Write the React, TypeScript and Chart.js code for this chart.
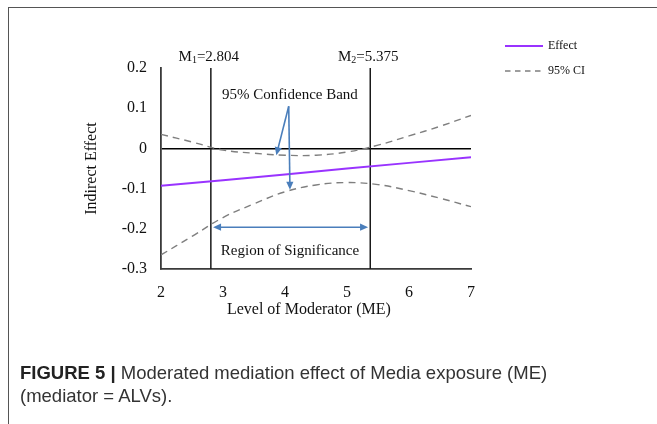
import React, { useEffect, useRef } from 'react';
import { Chart, registerables } from 'chart.js';

Chart.register(...registerables);

// ---------- data ----------
const effectLevels = [2, 3, 4, 5, 6, 7];
const effectValues = [-0.093, -0.079, -0.065, -0.05, -0.036, -0.022];

const ciLevels = [2, 2.5, 3, 3.5, 4, 4.5, 5, 5.5, 6, 6.5, 7];
const ciUpper = [0.035, 0.016, -0.004, -0.012, -0.017, -0.017, -0.009, 0.008, 0.031, 0.055, 0.082];
const ciLower = [-0.265, -0.219, -0.172, -0.138, -0.108, -0.091, -0.085, -0.09, -0.105, -0.124, -0.145];

const xTickValues = [2, 3, 4, 5, 6, 7];
const xTickLabels = ['2', '3', '4', '5', '6', '7'];
const yTickValues = [-0.3, -0.2, -0.1, 0, 0.1, 0.2];
const yTickLabels = ['-0.3', '-0.2', '-0.1', '0', '0.1', '0.2'];

const thresholdValues = [2.804, 5.375];
const thresholdSubscripts = ['1', '2'];
const thresholdTexts = ['=2.804', '=5.375'];

const seriesLabels = ['Effect', '95% CI'];
const xTitle = 'Level of Moderator (ME)';
const yTitle = 'Indirect Effect';

// annotation anchors in data units
const bandLabel = { text: '95% Confidence Band', x: 4.08, y: 0.122 };
const bandArrowStart = { x: 4.06, y: 0.105 };
const bandArrowEnds = [
  { x: 3.86, y: -0.017 },
  { x: 4.08, y: -0.103 },
];
const regionArrow = { y: -0.196, from: 2.84, to: 5.34 };
const regionLabel = { text: 'Region of Significance', x: 4.08, y: -0.265 };
const xTitleCenter = 4.385;

// ---------- styles ----------
const SERIF = "'Liberation Serif', 'Times New Roman', serif";
const EFFECT_COLOR = '#9933ff';
const CI_COLOR = '#7f7f7f';
const ARROW_COLOR = '#4a7ebb';
const TEXT_COLOR = '#111111';
const AXIS_COLOR = '#3a3a3a';

function arrowHead(ctx: CanvasRenderingContext2D, x0: number, y0: number, x1: number, y1: number) {
  const ang = Math.atan2(y1 - y0, x1 - x0);
  const len = 8;
  const hw = 3.6;
  ctx.beginPath();
  ctx.moveTo(x1, y1);
  ctx.lineTo(x1 - len * Math.cos(ang) + hw * Math.sin(ang), y1 - len * Math.sin(ang) - hw * Math.cos(ang));
  ctx.lineTo(x1 - len * Math.cos(ang) - hw * Math.sin(ang), y1 - len * Math.sin(ang) + hw * Math.cos(ang));
  ctx.closePath();
  ctx.fill();
}

function arrowLine(ctx: CanvasRenderingContext2D, x0: number, y0: number, x1: number, y1: number) {
  const ang = Math.atan2(y1 - y0, x1 - x0);
  ctx.beginPath();
  ctx.moveTo(x0, y0);
  ctx.lineTo(x1 - 6 * Math.cos(ang), y1 - 6 * Math.sin(ang));
  ctx.stroke();
  arrowHead(ctx, x0, y0, x1, y1);
}

const annotationPlugin = {
  id: 'figureAnnotations',
  afterDatasetsDraw(chart: any) {
    const { ctx, scales, chartArea } = chart;
    const xs = scales.x;
    const ys = scales.y;
    const px = (v: number) => xs.getPixelForValue(v);
    const py = (v: number) => ys.getPixelForValue(v);
    ctx.save();

    // threshold labels M1 / M2
    thresholdValues.forEach((t, i) => {
      const big = `15px ${SERIF}`;
      const small = `10px ${SERIF}`;
      ctx.font = big;
      const wM = ctx.measureText('M').width;
      const wT = ctx.measureText(thresholdTexts[i]).width;
      ctx.font = small;
      const wS = ctx.measureText(thresholdSubscripts[i]).width;
      const total = wM + wS + wT;
      let x = px(t) - 2 - total / 2;
      const base = py(yTickValues[yTickValues.length - 1]) - 7.5;
      ctx.fillStyle = TEXT_COLOR;
      ctx.textAlign = 'left';
      ctx.textBaseline = 'alphabetic';
      ctx.font = big;
      ctx.fillText('M', x, base);
      x += wM;
      ctx.font = small;
      ctx.fillText(thresholdSubscripts[i], x, base + 2.8);
      x += wS;
      ctx.font = big;
      ctx.fillText(thresholdTexts[i], x, base);
    });

    // x-axis title
    ctx.font = `16px ${SERIF}`;
    ctx.textAlign = 'center';
    ctx.textBaseline = 'middle';
    ctx.fillStyle = TEXT_COLOR;
    ctx.fillText(xTitle, px(xTitleCenter), chartArea.bottom + 41);

    // band label + region label
    ctx.font = `15px ${SERIF}`;
    ctx.textAlign = 'center';
    ctx.textBaseline = 'alphabetic';
    ctx.fillText(bandLabel.text, px(bandLabel.x), py(bandLabel.y));
    ctx.fillText(regionLabel.text, px(regionLabel.x), py(regionLabel.y));

    // arrows
    ctx.strokeStyle = ARROW_COLOR;
    ctx.fillStyle = ARROW_COLOR;
    ctx.lineWidth = 1.6;
    bandArrowEnds.forEach((e) => {
      arrowLine(ctx, px(bandArrowStart.x), py(bandArrowStart.y), px(e.x), py(e.y));
    });
    const ry = py(regionArrow.y);
    const ra = px(regionArrow.from);
    const rb = px(regionArrow.to);
    ctx.beginPath();
    ctx.moveTo(ra + 6, ry);
    ctx.lineTo(rb - 6, ry);
    ctx.stroke();
    arrowHead(ctx, rb, ry, ra, ry);
    arrowHead(ctx, ra, ry, rb, ry);

    // legend
    const lx0 = chartArea.right + 34;
    const lx1 = lx0 + 38;
    const rows = [46, 71];
    const dsets = chart.data.datasets;
    seriesLabels.forEach((lab, i) => {
      const ds = dsets[i];
      ctx.strokeStyle = ds.borderColor;
      ctx.lineWidth = i === 0 ? 2.2 : 1.4;
      ctx.setLineDash(ds.borderDash ? [5.5, 4.5] : []);
      ctx.beginPath();
      ctx.moveTo(lx0, rows[i]);
      ctx.lineTo(lx1, rows[i]);
      ctx.stroke();
      ctx.setLineDash([]);
      ctx.font = `12px ${SERIF}`;
      ctx.fillStyle = TEXT_COLOR;
      ctx.textAlign = 'left';
      ctx.textBaseline = 'middle';
      ctx.fillText(lab, lx1 + 5, rows[i]);
    });

    ctx.restore();
  },
};

export default function App() {
  const canvasRef = useRef<HTMLCanvasElement | null>(null);

  useEffect(() => {
    document.body.style.overflow = 'hidden';
    const canvas = canvasRef.current;
    if (!canvas) return;
    const yMax = yTickValues[yTickValues.length - 1];
    const yMin = yTickValues[0];
    const chart = new Chart(canvas, {
      type: 'line',
      data: {
        datasets: [
          {
            label: seriesLabels[0],
            data: effectLevels.map((x, i) => ({ x, y: effectValues[i] })),
            borderColor: EFFECT_COLOR,
            borderWidth: 2,
            pointRadius: 0,
            tension: 0,
          },
          {
            label: seriesLabels[1],
            data: ciLevels.map((x, i) => ({ x, y: ciUpper[i] })),
            borderColor: CI_COLOR,
            borderWidth: 1.4,
            borderDash: [7, 5],
            pointRadius: 0,
            tension: 0.4,
          },
          {
            label: seriesLabels[1] + ' (lower)',
            data: ciLevels.map((x, i) => ({ x, y: ciLower[i] })),
            borderColor: CI_COLOR,
            borderWidth: 1.4,
            borderDash: [7, 5],
            pointRadius: 0,
            tension: 0.4,
          },
          ...thresholdValues.map((t) => ({
            label: 'threshold',
            data: [
              { x: t, y: yMax },
              { x: t, y: yMin },
            ],
            borderColor: '#1a1a1a',
            borderWidth: 1.5,
            pointRadius: 0,
            tension: 0,
          })),
        ],
      },
      options: {
        responsive: false,
        animation: false,
        devicePixelRatio: 1,
        layout: { padding: { left: 82, right: 186, top: 68, bottom: 104 } },
        plugins: {
          legend: { display: false },
          tooltip: { enabled: false },
        },
        scales: {
          x: {
            type: 'linear',
            min: xTickValues[0],
            max: xTickValues[xTickValues.length - 1],
            afterBuildTicks: (s: any) => {
              s.ticks = xTickValues.map((v) => ({ value: v }));
            },
            afterFit: (s: any) => {
              s.height = 51;
            },
            ticks: {
              callback: (v: any) => {
                const i = xTickValues.indexOf(Number(v));
                return i >= 0 ? xTickLabels[i] : '';
              },
              padding: 14,
              maxRotation: 0,
              autoSkip: false,
              color: TEXT_COLOR,
              font: { family: SERIF, size: 16 },
            },
            grid: { display: false, drawTicks: false },
            border: { display: true, color: AXIS_COLOR, width: 1.8 },
            title: { display: false },
          },
          y: {
            type: 'linear',
            min: yMin,
            max: yMax,
            afterBuildTicks: (s: any) => {
              s.ticks = yTickValues.map((v) => ({ value: v }));
            },
            afterFit: (s: any) => {
              s.width = 79;
            },
            ticks: {
              callback: (v: any) => {
                const i = yTickValues.findIndex((t) => Math.abs(t - Number(v)) < 1e-9);
                return i >= 0 ? yTickLabels[i] : '';
              },
              padding: 14,
              autoSkip: false,
              color: TEXT_COLOR,
              font: { family: SERIF, size: 16 },
            },
            grid: {
              drawTicks: false,
              color: (c: any) => (c.tick && Math.abs(c.tick.value) < 1e-9 ? '#000000' : 'rgba(0,0,0,0)'),
              lineWidth: 1.6,
            },
            border: { display: true, color: AXIS_COLOR, width: 1.8 },
            title: {
              display: true,
              text: yTitle,
              color: TEXT_COLOR,
              font: { family: SERIF, size: 16 },
              padding: 0,
            },
          },
        },
      } as any,
      plugins: [annotationPlugin],
    });
    return () => chart.destroy();
  }, []);

  return (
    <div>
      <div
        style={{
          position: 'fixed',
          left: 8,
          top: 7,
          width: 649,
          height: 417,
          borderTop: '1.5px solid #555',
          borderLeft: '1.5px solid #555',
          boxSizing: 'border-box',
        }}
      />
      <canvas
        ref={canvasRef}
        width={657}
        height={424}
        style={{ position: 'fixed', left: 0, top: 0, width: 657, height: 424 }}
      />
      <div
        style={{
          position: 'fixed',
          left: 20,
          top: 361,
          width: 630,
          fontFamily: "'Liberation Sans', Arial, sans-serif",
          fontSize: 18.5,
          lineHeight: '23px',
          color: '#333',
        }}
      >
        <span style={{ fontWeight: 'bold', color: '#222' }}>FIGURE 5 | </span>
        Moderated mediation effect of Media exposure (ME)
        <br />
        (mediator = ALVs).
      </div>
    </div>
  );
}
